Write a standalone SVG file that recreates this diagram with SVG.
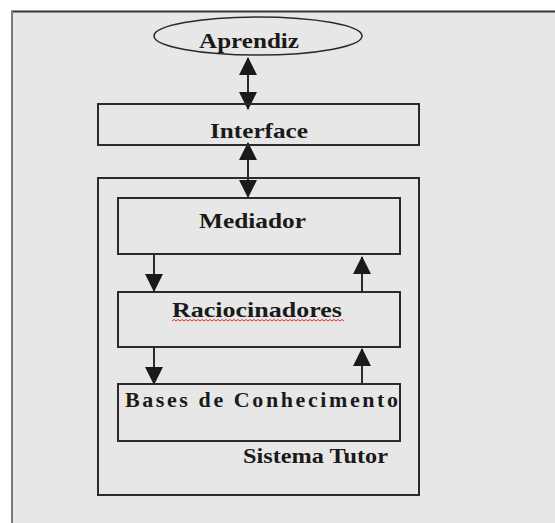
<svg xmlns="http://www.w3.org/2000/svg" width="555" height="523" viewBox="0 0 555 523">
  <style>
    .box { fill: none; stroke: #2a2a2a; stroke-width: 2; }
    .lbl { font-family: "Liberation Serif", "Times New Roman", serif; font-weight: bold; font-size: 22px; fill: #1a1a1a; }
    .conn { stroke: #2a2a2a; stroke-width: 2; fill: none; }
  </style>
  <defs>
    <marker id="head" viewBox="0 0 18 18" refX="17" refY="9" markerWidth="18" markerHeight="18" markerUnits="userSpaceOnUse" orient="auto-start-reverse">
      <path d="M0,0 L18,9 L0,18 z" fill="#1a1a1a"/>
    </marker>
  </defs>

  <!-- page background -->
  <rect x="0" y="0" width="555" height="523" fill="#ffffff"/>
  <rect x="11" y="11" width="544" height="512" fill="#e7e7e7"/>
  <line x1="11" y1="11.5" x2="555" y2="11.5" stroke="#333" stroke-width="2"/>
  <line x1="12" y1="11" x2="12" y2="523" stroke="#7a7a7a" stroke-width="2"/>

  <!-- connectors -->
  <g id="connectors">
    <line class="conn" x1="248" y1="58" x2="248" y2="109" marker-start="url(#head)" marker-end="url(#head)"/>
    <line class="conn" x1="248" y1="143" x2="248" y2="197" marker-start="url(#head)" marker-end="url(#head)"/>
    <line class="conn" x1="154" y1="254" x2="154" y2="291" marker-end="url(#head)"/>
    <line class="conn" x1="362" y1="291" x2="362" y2="257" marker-end="url(#head)"/>
    <line class="conn" x1="154" y1="347" x2="154" y2="384" marker-end="url(#head)"/>
    <line class="conn" x1="362" y1="384" x2="362" y2="349" marker-end="url(#head)"/>
  </g>

  <g id="aprendiz">
    <ellipse cx="258" cy="36" rx="104" ry="19" fill="none" stroke="#2a2a2a" stroke-width="1.5"/>
    <text class="lbl" x="199" y="48" textLength="100" lengthAdjust="spacingAndGlyphs">Aprendiz</text>
  </g>

  <g id="interface">
    <rect class="box" x="98" y="104" width="321" height="41"/>
    <text class="lbl" x="210" y="138" textLength="98" lengthAdjust="spacingAndGlyphs">Interface</text>
  </g>

  <g id="sistema-tutor">
    <rect class="box" x="98" y="178" width="321" height="317"/>
    <text class="lbl" x="243" y="463" textLength="145" lengthAdjust="spacingAndGlyphs">Sistema Tutor</text>
  </g>

  <g id="mediador">
    <rect class="box" x="118" y="198" width="282" height="56"/>
    <text class="lbl" x="199" y="228" textLength="107" lengthAdjust="spacingAndGlyphs">Mediador</text>
  </g>

  <g id="raciocinadores">
    <rect class="box" x="118" y="292" width="282" height="55"/>
    <text class="lbl" x="172" y="317" textLength="170" lengthAdjust="spacingAndGlyphs">Raciocinadores</text>
    <!-- spell-check squiggle under the word -->
    <path d="M172,321 l2,-1.5 l2,1.5 l2,-1.5 l2,1.5 l2,-1.5 l2,1.5 l2,-1.5 l2,1.5 l2,-1.5 l2,1.5 l2,-1.5 l2,1.5 l2,-1.5 l2,1.5 l2,-1.5 l2,1.5 l2,-1.5 l2,1.5 l2,-1.5 l2,1.5 l2,-1.5 l2,1.5 l2,-1.5 l2,1.5 l2,-1.5 l2,1.5 l2,-1.5 l2,1.5 l2,-1.5 l2,1.5 l2,-1.5 l2,1.5 l2,-1.5 l2,1.5 l2,-1.5 l2,1.5 l2,-1.5 l2,1.5 l2,-1.5 l2,1.5 l2,-1.5 l2,1.5 l2,-1.5 l2,1.5 l2,-1.5 l2,1.5 l2,-1.5 l2,1.5 l2,-1.5 l2,1.5 l2,-1.5 l2,1.5 l2,-1.5 l2,1.5 l2,-1.5 l2,1.5 l2,-1.5 l2,1.5 l2,-1.5 l2,1.5 l2,-1.5 l2,1.5 l2,-1.5 l2,1.5 l2,-1.5 l2,1.5 l2,-1.5 l2,1.5 l2,-1.5 l2,1.5 l2,-1.5 l2,1.5 l2,-1.5 l2,1.5 l2,-1.5 l2,1.5 l2,-1.5 l2,1.5 l2,-1.5 l2,1.5 l2,-1.5 l2,1.5 l2,-1.5 l2,1.5 l2,-1.5 l2,1.5" fill="none" stroke="#e03030" stroke-width="1"/>
  </g>

  <g id="bases">
    <rect class="box" x="118" y="384" width="282" height="57"/>
    <text class="lbl" x="125" y="407" textLength="273" lengthAdjust="spacing">Bases de Conhecimento</text>
  </g>
</svg>
